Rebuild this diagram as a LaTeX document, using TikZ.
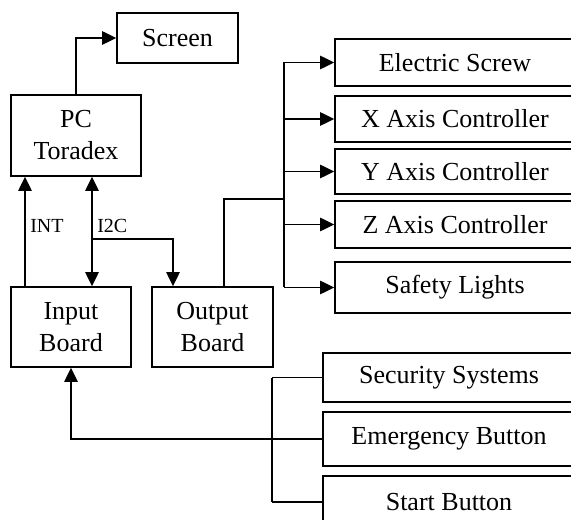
\documentclass[tikz,border=0pt]{standalone}
\usepackage{fontspec}
\setmainfont{Liberation Serif}
\usetikzlibrary{arrows.meta, positioning}

\begin{document}
\begin{tikzpicture}[x=0.75pt,y=0.75pt,yscale=-1,xscale=1,
  blk/.style={draw, line width=1.2pt, inner sep=0pt, align=center, font=\fontsize{19.5}{24}\selectfont},
  wire/.style={line width=1.2pt},
  arr/.style={wire, -{Triangle[length=10.5pt,width=10pt]}},
  arrtwo/.style={wire, {Triangle[length=10.5pt,width=10pt]}-{Triangle[length=10.5pt,width=10pt]}},
  lbl/.style={anchor=west, inner sep=0pt, font=\fontsize{15}{18}\selectfont}]
\clip (0,0) rectangle (571,520);

% Blocks
\node [blk, minimum width=90.75pt, minimum height=37.5pt] (scr) at (177.5,38) {Screen};
\node [blk, minimum width=97.5pt, minimum height=60.75pt] (pc) at (76,135.5) {PC\\Toradex};
\node [blk, minimum width=90pt, minimum height=60pt] (inb) at (71,327) {Input\\Board};
\node [blk, minimum width=90.75pt, minimum height=60pt] (outb) at (212.5,327) {Output\\Board};

% Outputs
\node [blk, minimum width=180pt, minimum height=35.25pt] (es) at (455,62.5) {Electric Screw};
\node [blk, minimum width=180pt, minimum height=34.5pt] (xa) at (455,119) {X Axis Controller};
\node [blk, minimum width=180pt, minimum height=33.75pt] (ya) at (455,171.5) {Y Axis Controller};
\node [blk, minimum width=180pt, minimum height=35.25pt] (za) at (455,224.5) {Z Axis Controller};
\node [blk, minimum width=180pt, minimum height=38.25pt] (sl) at (455,287.5) {Safety Lights};

% Inputs
\node [blk, minimum width=189pt, minimum height=36.75pt] (ss) at (449,377.5) {Security Systems};
\node [blk, minimum width=189pt, minimum height=40.5pt] (eb) at (449,439) {Emergency Button};
\node [blk, minimum width=189pt, minimum height=39pt] (sb) at (449,502) {Start Button};

\coordinate (intx) at (25,0);
\coordinate (i2c) at (92,239);
\coordinate (outx) at (173,0);
\coordinate (outup) at (224,0);
\coordinate (obus) at (284,199);
\coordinate (ibus) at (272,0);

% PC to screen
\draw [arr] (pc.north) |- (scr.west);
% INT and I2C
\draw [arr] (inb.north -| intx) -- (pc.south -| intx);
\draw [arrtwo] (pc.south -| i2c) -- (inb.north -| i2c);
\draw [arr] (i2c) -| (outb.north -| outx);
\node [lbl] (intl) at (30,226) {INT};
\node [lbl] (i2cl) at (97,226) {I2C};

% Output bus
\draw [wire] (outb.north -| outup) |- (obus);
\draw [wire] (es.west -| obus) -- (sl.west -| obus);
\foreach \n in {es,xa,ya,za,sl}
  \draw [arr] (\n.west -| obus) -- (\n.west);

% Input bus
\draw [wire] (ss.west -| ibus) -- (sb.west -| ibus);
\draw [wire] (ss.west) -- (ss.west -| ibus);
\draw [wire] (sb.west) -- (sb.west -| ibus);
\draw [arr] (eb.west) -| (inb.south);

\end{tikzpicture}
\end{document}
